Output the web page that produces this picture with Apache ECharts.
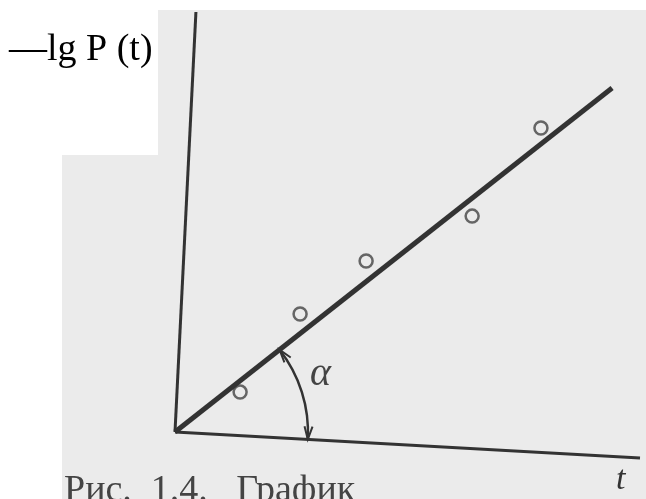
<!DOCTYPE html>
<html>
<head>
<meta charset="utf-8">
<script src="https://cdn.jsdelivr.net/npm/echarts@6/dist/echarts.min.js"></script>
<style>
  html, body { margin: 0; padding: 0; background: #fff; }
  #chart { width: 646px; height: 499px; }
</style>
</head>
<body>
<div id="chart"></div>
<script>
// measured points (t, -lg P(t))
var tValues = [1.40, 2.69, 4.11, 6.39, 7.87];
var lgValues = [0.95, 2.81, 4.07, 5.14, 7.24];
// fitted straight line, starts at origin
var fitT = [0, 9.40];
var fitLg = [0, 8.19];
// axis lines as drawn in the scan (slightly skewed)
var yAxisT = [0, 0.45];
var yAxisLg = [0, 10];
var xAxisT = [0, 10];
var xAxisLg = [0, -0.62];

function pairs(a, b) {
    var out = [];
    for (var i = 0; i < a.length; i++) out.push([a[i], b[i]]);
    return out;
}

var myChart = echarts.init(document.getElementById('chart'));
var option = {
    animation: false,
    backgroundColor: '#ffffff',
    grid: {
        left: 175,
        right: 6,
        top: 12,
        bottom: 4
    },
    xAxis: {
        type: 'value',
        min: 0,
        max: 10,
        show: false
    },
    yAxis: {
        type: 'value',
        min: -1.5,
        max: 10,
        show: false
    },
    graphic: [
        // scanned page background
        {id: 'bg1', type: 'rect', z: -10, shape: {x: 158, y: 10, width: 488, height: 150}, style: {fill: '#ebebeb'}},
        {id: 'bg2', type: 'rect', z: -10, shape: {x: 62, y: 155, width: 584, height: 344}, style: {fill: '#ebebeb'}},
        {id: 'bg3', type: 'rect', z: -9, shape: {x: 0, y: 0, width: 158, height: 155}, style: {fill: '#ffffff'}},
        {
            id: 'ylab', type: 'text', left: 9, top: 31,
            style: {text: '—lg P (t)', font: '38px "Liberation Serif", "DejaVu Serif", serif', fill: '#000'}
        },
        {
            id: 'tlab', type: 'text', left: 616, top: 463,
            style: {text: 't', font: 'italic 34px "Liberation Serif", serif', fill: '#333'}
        },
        {
            id: 'alab', type: 'text', left: 310, top: 354,
            style: {text: 'α', font: 'italic 40px "Liberation Serif", serif', fill: '#444'}
        },
        {
            id: 'cap', type: 'text', left: 64, top: 472,
            style: {text: 'Рис.  1.4.   График', font: '38px "Liberation Serif", serif', fill: '#444'}
        }
    ],
    series: [
        {
            type: 'line',
            data: pairs(yAxisT, yAxisLg),
            symbol: 'none',
            lineStyle: {color: '#333', width: 3}
        },
        {
            type: 'line',
            data: pairs(xAxisT, xAxisLg),
            symbol: 'none',
            lineStyle: {color: '#333', width: 3}
        },
        {
            type: 'line',
            data: pairs(fitT, fitLg),
            symbol: 'none',
            lineStyle: {color: '#333', width: 5}
        },
        {
            type: 'scatter',
            data: pairs(tValues, lgValues),
            symbol: 'circle',
            symbolSize: 13,
            itemStyle: {color: '#ebebeb', borderColor: '#444', borderWidth: 2.5}
        }
    ]
};
myChart.setOption(option);

// angle arc between the fitted line and the t axis
var o = myChart.convertToPixel({gridIndex: 0}, [0, 0]);
var pL = myChart.convertToPixel({gridIndex: 0}, [fitT[1], fitLg[1]]);
var pX = myChart.convertToPixel({gridIndex: 0}, [xAxisT[1], xAxisLg[1]]);
var a1 = Math.atan2(pL[1] - o[1], pL[0] - o[0]);
var a2 = Math.atan2(pX[1] - o[1], pX[0] - o[0]);
var r = 133;

function arrowHead(id, theta, sign) {
    var px = o[0] + r * Math.cos(theta);
    var py = o[1] + r * Math.sin(theta);
    var dx = -sign * Math.sin(theta), dy = sign * Math.cos(theta);
    var bx = px - dx * 13, by = py - dy * 13;
    return {
        id: id,
        type: 'polyline',
        shape: {points: [[bx - dy * 4, by + dx * 4], [px, py], [bx + dy * 4, by - dx * 4]]},
        style: {stroke: '#333', lineWidth: 2, fill: null}
    };
}

myChart.setOption({
    graphic: [
        {
            id: 'arc',
            type: 'arc',
            shape: {cx: o[0], cy: o[1], r: r, startAngle: a1, endAngle: a2, clockwise: true},
            style: {stroke: '#333', lineWidth: 2.5, fill: null}
        },
        arrowHead('arrow1', a1, -1),
        arrowHead('arrow2', a2, 1)
    ]
});
</script>
</body>
</html>
